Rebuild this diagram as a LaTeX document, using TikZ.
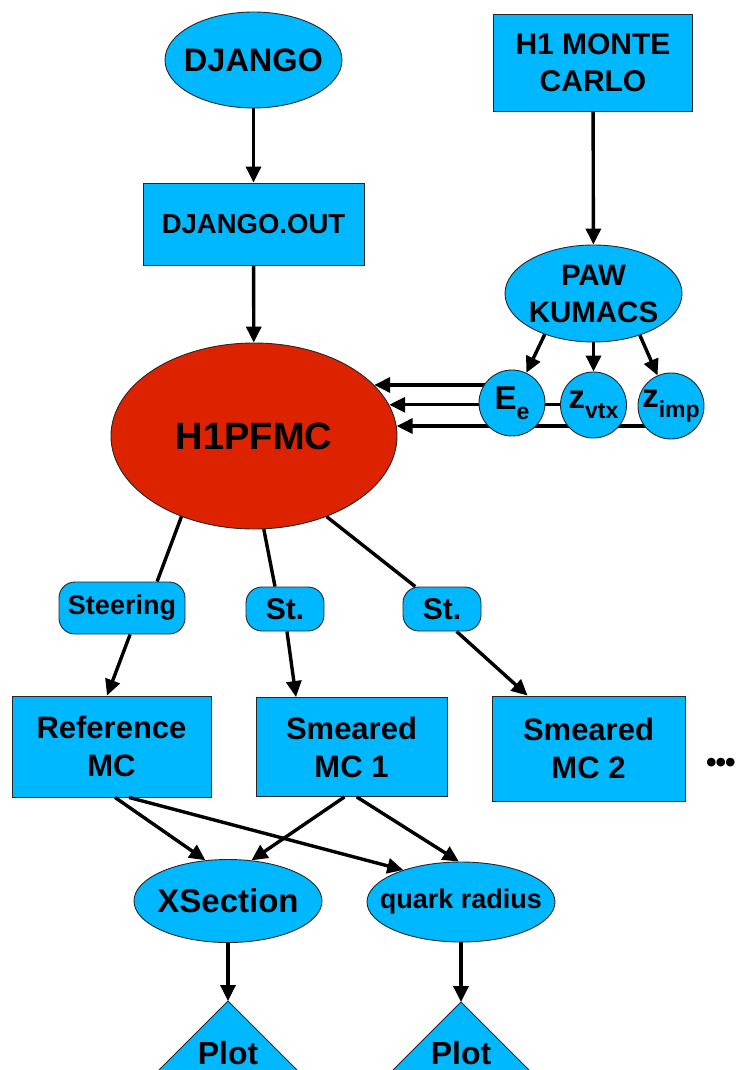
\documentclass[tikz,border=0pt]{standalone}
\usepackage{fontspec}
\setmainfont{Liberation Sans}
\usetikzlibrary{arrows.meta,shapes.geometric,backgrounds}

\definecolor{slide}{RGB}{0,184,255}
\definecolor{core}{RGB}{221,34,0}
\newcommand{\fsz}[2]{\bfseries\fontsize{#1}{#2}\selectfont}
\newcommand{\lowidx}[1]{\raisebox{-10pt}{\fontsize{23}{23}\selectfont #1}}

\begin{document}
\begin{tikzpicture}[
  x=1pt, y=-1pt,
  font=\bfseries,
  skin/.style={draw=black!85, line width=0.9pt, fill=slide},
  box/.style={skin, align=center, inner sep=0pt},
  oval/.style={box, ellipse, inner sep=-20pt},
  ball/.style={box, circle, minimum size=66pt, font=\fsz{33}{36}},
  tag/.style={box, rounded corners=16pt, minimum height=44pt},
  flow/.style={-{Triangle[length=16pt,width=15pt]}, line width=3.4pt},
  link/.style={line width=3.4pt}
]
\useasboundingbox (0,0) rectangle (738,1070);
\clip (0,0) rectangle (738,1070);

% Sources
\node[oval, minimum width=177pt, minimum height=96pt, font=\fsz{32.5}{36}] (django) at (253.5,60) {DJANGO};
\node[box, minimum width=199pt, minimum height=97pt, font=\fsz{30}{37}] (h1mc) at (593,62.5) {H1 MONTE\\CARLO};
\node[box, minimum width=221pt, minimum height=82pt, font=\fsz{27.5}{30}] (djout) at (253.5,224) {DJANGO.OUT};
\node[oval, minimum width=177pt, minimum height=97pt, font=\fsz{29.5}{37}] (paw) at (593.5,293.5) {PAW\\KUMACS};

% Core program
\node[oval, fill=core, minimum width=286pt, minimum height=186pt, font=\fsz{38}{40}] (pfmc) at (254,436) {H1PFMC};

% Smearing inputs
\node[ball] (ee) at (512,403) {E\lowidx{e}};
\node[ball] (zvtx) at (593.5,405) {z\lowidx{vtx}};
\node[ball] (zimp) at (671,406) {z\lowidx{imp}};

% Steering cards
\node[tag, minimum width=126pt, minimum height=52pt, font=\fsz{27}{30}] (steer) at (122,608) {Steering};
\node[tag, minimum width=78pt, font=\fsz{30}{32}] (st1) at (285,609) {St.};
\node[tag, minimum width=78pt, font=\fsz{30}{32}] (st2) at (442,609) {St.};

% MC samples
\node[box, minimum width=199pt, minimum height=101pt, font=\fsz{31}{38}] (refmc) at (111.5,746.5) {Reference\\MC};
\node[box, minimum width=191pt, minimum height=99pt, font=\fsz{31}{38}] (mc1) at (351.5,747) {Smeared\\MC 1};
\node[box, minimum width=193pt, minimum height=105pt, font=\fsz{31}{38}] (mc2) at (588.5,748.5) {Smeared\\MC 2};
\node[anchor=base west, inner sep=0pt, font=\fsz{30}{30}] (more) at (706,772) {\textbullet\kern-1pt\textbullet\kern-1pt\textbullet};

% Analyses
\node[oval, minimum width=188pt, minimum height=83pt, font=\fsz{33}{36}] (xsec) at (228,901) {XSection};
\node[oval, minimum width=188pt, minimum height=80pt, font=\fsz{27}{30}] (qrad) at (461,902) {quark radius};

% Plots
\coordinate (plotA) at (228,1001);
\coordinate (plotB) at (461,1002);
\draw[skin] (plotA) -- ++(-110,110) -- ++(220,0) -- cycle;
\draw[skin] (plotB) -- ++(-110,110) -- ++(220,0) -- cycle;
\node[font=\fsz{32}{34}, inner sep=0pt] (plotAtxt) at (228,1053) {Plot};
\node[font=\fsz{32}{34}, inner sep=0pt] (plotBtxt) at (461,1053) {Plot};

% Main flow
\draw[flow] (django) -- (djout);
\draw[flow] (djout) -- (pfmc);
\draw[flow] (h1mc) -- (paw);
\draw[flow] (paw.220) -- (ee);
\draw[flow] (paw) -- (zvtx);
\draw[flow] (paw.318) -- (zimp);

% inputs into H1PFMC, running behind the circles
\begin{scope}[on background layer]
\draw[flow] (ee.center |- pfmc.23) -- (pfmc.23);
\draw[flow] (zvtx.center |- pfmc.13) -- (pfmc.13);
\draw[flow] (zimp.center |- pfmc.4.5) -- (pfmc.4.5);
\end{scope}

% steering of the MC runs
\draw[link] (pfmc.228) -- (steer.37);
\draw[flow] (steer.-73) -- (refmc.95);
\draw[link] (pfmc.-84.5) -- (st1.114);
\draw[flow] (st1.-85) -- (mc1.138);
\draw[link] (pfmc.-48) -- (st2.140);
\draw[flow] (st2.-57.5) -- (mc2.139.5);

% analyses and plots
\draw[flow] (refmc.-86) -- (xsec.119);
\draw[flow] (refmc.-71) -- (qrad.151.5);
\draw[flow] (mc1.-98.7) -- (xsec.60.7);
\draw[flow] (mc1.-84.8) -- (qrad.93);
\draw[flow] (xsec) -- (plotA);
\draw[flow] (qrad) -- (plotB);

\end{tikzpicture}
\end{document}
